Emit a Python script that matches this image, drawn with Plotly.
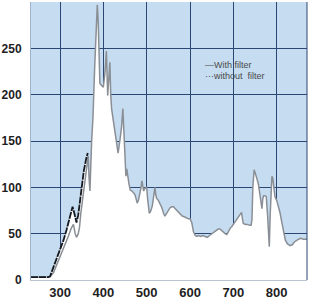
import plotly.graph_objects as go

# Without filter (gray curve)
wo_x = [233, 272, 277, 285, 292, 298, 308, 319, 326, 331, 335, 338, 342, 345, 348, 354, 360, 365, 367, 369,
        373, 376, 380, 383, 386, 388, 390, 392, 396, 400, 404, 407, 409, 410, 413, 415, 417, 419, 423, 427,
        431, 434, 438, 442, 445, 447, 449, 451, 452, 454, 456, 459, 462, 466, 470, 473, 476, 478, 481, 484,
        487, 489, 491, 493, 496, 500, 502, 504, 506, 509, 513, 516, 519, 521, 523, 527, 531, 535, 539, 542,
        546, 550, 554, 558, 562, 566, 570, 574, 578, 582, 588, 596, 600, 604, 608, 612, 616, 620, 625, 630,
        635, 640, 645, 650, 655, 660, 665, 669, 673, 677, 681, 685, 689, 693, 697, 700, 705, 710, 715, 719,
        721, 723, 728, 733, 738, 741, 743, 745, 748, 751, 754, 758, 761, 764, 766, 768, 770, 773, 776, 779,
        782, 783, 785, 787, 789, 791, 793, 796, 800, 804, 808, 812, 816, 820, 825, 831, 836, 841, 847, 855,
        862, 870]
wo_y = [3, 3, 3.5, 8, 16, 22, 33, 47, 56, 60, 50, 46, 50, 57, 72, 96, 118, 134, 110, 96,
        150, 175, 230, 275, 297, 280, 240, 212, 210, 208, 225, 247, 215, 199, 220, 235, 200, 185, 172, 160,
        150, 137, 150, 165, 185, 165, 145, 125, 112, 120, 112, 104, 97, 96, 94, 92, 87, 83, 86, 92,
        100, 107, 100, 96, 99, 100, 88, 76, 72, 74, 80, 90, 100, 92, 88, 86, 82, 78, 72, 69,
        72, 75, 78, 79, 79, 77, 75, 74, 71, 69, 68, 66, 66, 62, 52, 48, 47, 48, 47, 48,
        47, 46, 48, 50, 52, 53, 55, 55, 53, 51, 50, 49, 53, 56, 58, 60, 63, 67, 70, 73,
        66, 61, 60, 60, 59, 59, 65, 100, 119, 115, 110, 103, 92, 80, 77, 88, 91, 91, 90, 70,
        45, 36, 70, 106, 112, 110, 100, 90, 86, 80, 72, 62, 50, 43, 39, 37, 38, 41, 43, 45,
        44, 44]

# With filter (black curve)
wf_x = [233, 273, 277, 282, 288, 294, 300, 308, 315, 323, 329, 333, 338, 342, 346, 350, 355, 360, 364]
wf_y = [3, 3, 4, 10, 18, 26, 33, 43, 54, 68, 79, 72, 62, 70, 86, 104, 118, 130, 137]

x_ticks = [300, 400, 500, 600, 700, 800]
y_ticks = [0, 50, 100, 150, 200, 250]

fig = go.Figure()
# white fills under both curves
fig.add_trace(go.Scatter(x=wf_x, y=wf_y, mode="lines", line=dict(width=0), fill="tozeroy",
                         fillcolor="white", hoverinfo="skip", showlegend=False))
fig.add_trace(go.Scatter(x=wo_x, y=wo_y, mode="lines", line=dict(width=0), fill="tozeroy",
                         fillcolor="white", hoverinfo="skip", showlegend=False))
# lines
fig.add_trace(go.Scatter(x=wo_x, y=wo_y, mode="lines", name="without filter",
                         line=dict(color="#8a8f96", width=1.5), showlegend=False))
fig.add_trace(go.Scatter(x=wf_x, y=wf_y, mode="lines", name="With filter",
                         line=dict(color="#15191f", width=1.8, dash="7px,1px"), showlegend=False))

grid = "#2c4673"
fig.update_layout(
    width=322, height=302,
    margin=dict(l=31, r=15, t=2, b=18),
    paper_bgcolor="white",
    plot_bgcolor="#c6dcf1",
    xaxis=dict(range=[233, 870], tickvals=x_ticks, showgrid=True, gridcolor=grid, gridwidth=1,
               zeroline=False, showline=True, linecolor="#b8c4d0", linewidth=1, mirror=False,
               tickfont=dict(family="Liberation Sans", size=13, color="#1e1e1e", weight="bold"),
               ticks=""),
    yaxis=dict(range=[0, 300], tickvals=y_ticks, showgrid=True, gridcolor=grid, gridwidth=1,
               zeroline=False, showline=True, linecolor="#9fb4cc", linewidth=1,
               tickfont=dict(family="Liberation Sans", size=12, color="#1e1e1e", weight="bold"),
               ticks="", ticklabelstandoff=6),
    annotations=[
        dict(xref="paper", yref="paper", x=0.623, y=0.773, xanchor="left", yanchor="middle",
             text="—With filter", showarrow=False,
             font=dict(family="Liberation Sans", size=9, color="#4a4a4a")),
        dict(xref="paper", yref="paper", x=0.623, y=0.735, xanchor="left", yanchor="middle",
             text="···without  filter", showarrow=False,
             font=dict(family="Liberation Sans", size=9, color="#4a4a4a")),
    ],
)
# right border in navy like the grid
fig.add_shape(type="line", xref="paper", yref="paper", x0=1, x1=1, y0=0, y1=1,
              line=dict(color=grid, width=1))

fig.write_html("out.html")
